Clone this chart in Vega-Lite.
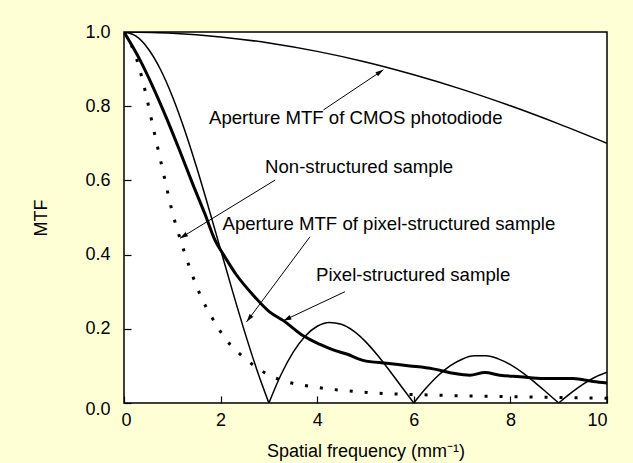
{
  "$schema": "https://vega.github.io/schema/vega-lite/v6.json",
  "width": 483,
  "height": 371,
  "autosize": {"type": "none"},
  "padding": {"left": 124, "top": 32, "right": 26, "bottom": 60},
  "background": "#ffffd6",
  "config": {
    "view": {"fill": "white", "stroke": "black", "strokeWidth": 1.5},
    "font": "Liberation Sans",
    "axis": {
      "grid": false,
      "domain": false,
      "tickColor": "black",
      "tickSize": -7,
      "tickWidth": 1.2,
      "labelFont": "Liberation Sans",
      "labelFontSize": 18,
      "labelColor": "black",
      "titleFont": "Liberation Sans",
      "titleFontSize": 18,
      "titleFontWeight": "normal",
      "titleColor": "black"
    }
  },
  "datasets": {
    "curves": [
      {"curve": "cmos", "part": "a", "f": 0, "mtf": 1.0},
      {"curve": "cmos", "part": "a", "f": 1, "mtf": 0.9967},
      {"curve": "cmos", "part": "a", "f": 2, "mtf": 0.9868},
      {"curve": "cmos", "part": "a", "f": 3, "mtf": 0.9704},
      {"curve": "cmos", "part": "a", "f": 4, "mtf": 0.9478},
      {"curve": "cmos", "part": "a", "f": 5, "mtf": 0.9192},
      {"curve": "cmos", "part": "a", "f": 6, "mtf": 0.8847},
      {"curve": "cmos", "part": "a", "f": 7, "mtf": 0.8454},
      {"curve": "cmos", "part": "a", "f": 8, "mtf": 0.8011},
      {"curve": "cmos", "part": "a", "f": 9, "mtf": 0.7524},
      {"curve": "cmos", "part": "a", "f": 10, "mtf": 0.7001},

      {"curve": "aperture", "part": "a", "f": 0, "mtf": 1.0},
      {"curve": "aperture", "part": "a", "f": 0.25, "mtf": 0.9886},
      {"curve": "aperture", "part": "a", "f": 0.5, "mtf": 0.9549},
      {"curve": "aperture", "part": "a", "f": 0.75, "mtf": 0.9003},
      {"curve": "aperture", "part": "a", "f": 1.0, "mtf": 0.827},
      {"curve": "aperture", "part": "a", "f": 1.25, "mtf": 0.7379},
      {"curve": "aperture", "part": "a", "f": 1.5, "mtf": 0.6366},
      {"curve": "aperture", "part": "a", "f": 1.75, "mtf": 0.5271},
      {"curve": "aperture", "part": "a", "f": 2.0, "mtf": 0.4135},
      {"curve": "aperture", "part": "a", "f": 2.25, "mtf": 0.3001},
      {"curve": "aperture", "part": "a", "f": 2.5, "mtf": 0.191},
      {"curve": "aperture", "part": "a", "f": 2.75, "mtf": 0.0899},
      {"curve": "aperture", "part": "a", "f": 3.0, "mtf": 0.0},
      {"curve": "aperture", "part": "b", "f": 3.0, "mtf": 0.0},
      {"curve": "aperture", "part": "b", "f": 3.25, "mtf": 0.0761},
      {"curve": "aperture", "part": "b", "f": 3.5, "mtf": 0.1364},
      {"curve": "aperture", "part": "b", "f": 3.75, "mtf": 0.1801},
      {"curve": "aperture", "part": "b", "f": 4.0, "mtf": 0.2068},
      {"curve": "aperture", "part": "b", "f": 4.25, "mtf": 0.217},
      {"curve": "aperture", "part": "b", "f": 4.5, "mtf": 0.2122},
      {"curve": "aperture", "part": "b", "f": 4.75, "mtf": 0.1942},
      {"curve": "aperture", "part": "b", "f": 5.0, "mtf": 0.1654},
      {"curve": "aperture", "part": "b", "f": 5.25, "mtf": 0.1286},
      {"curve": "aperture", "part": "b", "f": 5.5, "mtf": 0.0868},
      {"curve": "aperture", "part": "b", "f": 5.75, "mtf": 0.043},
      {"curve": "aperture", "part": "b", "f": 6.0, "mtf": 0.0},
      {"curve": "aperture", "part": "c", "f": 6.0, "mtf": 0.0},
      {"curve": "aperture", "part": "c", "f": 6.25, "mtf": 0.0395},
      {"curve": "aperture", "part": "c", "f": 6.5, "mtf": 0.0735},
      {"curve": "aperture", "part": "c", "f": 6.75, "mtf": 0.1},
      {"curve": "aperture", "part": "c", "f": 7.0, "mtf": 0.1181},
      {"curve": "aperture", "part": "c", "f": 7.25, "mtf": 0.1272},
      {"curve": "aperture", "part": "c", "f": 7.5, "mtf": 0.1273},
      {"curve": "aperture", "part": "c", "f": 7.75, "mtf": 0.119},
      {"curve": "aperture", "part": "c", "f": 8.0, "mtf": 0.1034},
      {"curve": "aperture", "part": "c", "f": 8.25, "mtf": 0.0819},
      {"curve": "aperture", "part": "c", "f": 8.5, "mtf": 0.0562},
      {"curve": "aperture", "part": "c", "f": 8.75, "mtf": 0.0283},
      {"curve": "aperture", "part": "c", "f": 9.0, "mtf": 0.0},
      {"curve": "aperture", "part": "d", "f": 9.0, "mtf": 0.0},
      {"curve": "aperture", "part": "d", "f": 9.25, "mtf": 0.0267},
      {"curve": "aperture", "part": "d", "f": 9.5, "mtf": 0.0503},
      {"curve": "aperture", "part": "d", "f": 9.75, "mtf": 0.0693},
      {"curve": "aperture", "part": "d", "f": 10.0, "mtf": 0.0827},

      {"curve": "pixel", "part": "a", "f": 0, "mtf": 1.0},
      {"curve": "pixel", "part": "a", "f": 0.33, "mtf": 0.925},
      {"curve": "pixel", "part": "a", "f": 0.61, "mtf": 0.849},
      {"curve": "pixel", "part": "a", "f": 0.88, "mtf": 0.768},
      {"curve": "pixel", "part": "a", "f": 1.16, "mtf": 0.678},
      {"curve": "pixel", "part": "a", "f": 1.43, "mtf": 0.588},
      {"curve": "pixel", "part": "a", "f": 1.68, "mtf": 0.508},
      {"curve": "pixel", "part": "a", "f": 1.88, "mtf": 0.44},
      {"curve": "pixel", "part": "a", "f": 2.06, "mtf": 0.4},
      {"curve": "pixel", "part": "a", "f": 2.33, "mtf": 0.345},
      {"curve": "pixel", "part": "a", "f": 2.68, "mtf": 0.29},
      {"curve": "pixel", "part": "a", "f": 3.02, "mtf": 0.245},
      {"curve": "pixel", "part": "a", "f": 3.3, "mtf": 0.222},
      {"curve": "pixel", "part": "a", "f": 3.71, "mtf": 0.181},
      {"curve": "pixel", "part": "a", "f": 4.06, "mtf": 0.158},
      {"curve": "pixel", "part": "a", "f": 4.33, "mtf": 0.143},
      {"curve": "pixel", "part": "a", "f": 4.61, "mtf": 0.132},
      {"curve": "pixel", "part": "a", "f": 4.95, "mtf": 0.115},
      {"curve": "pixel", "part": "a", "f": 5.44, "mtf": 0.107},
      {"curve": "pixel", "part": "a", "f": 5.92, "mtf": 0.1},
      {"curve": "pixel", "part": "a", "f": 6.4, "mtf": 0.092},
      {"curve": "pixel", "part": "a", "f": 6.82, "mtf": 0.08},
      {"curve": "pixel", "part": "a", "f": 7.16, "mtf": 0.075},
      {"curve": "pixel", "part": "a", "f": 7.47, "mtf": 0.082},
      {"curve": "pixel", "part": "a", "f": 7.78, "mtf": 0.075},
      {"curve": "pixel", "part": "a", "f": 8.2, "mtf": 0.071},
      {"curve": "pixel", "part": "a", "f": 8.68, "mtf": 0.066},
      {"curve": "pixel", "part": "a", "f": 9.3, "mtf": 0.066},
      {"curve": "pixel", "part": "a", "f": 9.72, "mtf": 0.058},
      {"curve": "pixel", "part": "a", "f": 10.0, "mtf": 0.054},

      {"curve": "non", "part": "a", "f": 0, "mtf": 1.0},
      {"curve": "non", "part": "a", "f": 0.2, "mtf": 0.95},
      {"curve": "non", "part": "a", "f": 0.4, "mtf": 0.862},
      {"curve": "non", "part": "a", "f": 0.6, "mtf": 0.745},
      {"curve": "non", "part": "a", "f": 0.8, "mtf": 0.629},
      {"curve": "non", "part": "a", "f": 1.0, "mtf": 0.515},
      {"curve": "non", "part": "a", "f": 1.2, "mtf": 0.427},
      {"curve": "non", "part": "a", "f": 1.4, "mtf": 0.35},
      {"curve": "non", "part": "a", "f": 1.6, "mtf": 0.285},
      {"curve": "non", "part": "a", "f": 1.8, "mtf": 0.235},
      {"curve": "non", "part": "a", "f": 2.0, "mtf": 0.192},
      {"curve": "non", "part": "a", "f": 2.2, "mtf": 0.157},
      {"curve": "non", "part": "a", "f": 2.5, "mtf": 0.121},
      {"curve": "non", "part": "a", "f": 2.75, "mtf": 0.095},
      {"curve": "non", "part": "a", "f": 3.07, "mtf": 0.071},
      {"curve": "non", "part": "a", "f": 3.37, "mtf": 0.057},
      {"curve": "non", "part": "a", "f": 3.7, "mtf": 0.048},
      {"curve": "non", "part": "a", "f": 4.0, "mtf": 0.042},
      {"curve": "non", "part": "a", "f": 4.3, "mtf": 0.037},
      {"curve": "non", "part": "a", "f": 5.2, "mtf": 0.027},
      {"curve": "non", "part": "a", "f": 6.5, "mtf": 0.021},
      {"curve": "non", "part": "a", "f": 8.0, "mtf": 0.017},
      {"curve": "non", "part": "a", "f": 9.0, "mtf": 0.015},
      {"curve": "non", "part": "a", "f": 10.0, "mtf": 0.013}
    ],
    "labels": [
      {"text": "Aperture MTF of CMOS photodiode", "f": 1.76, "mtf": 0.768},
      {"text": "Non-structured sample", "f": 2.92, "mtf": 0.636},
      {"text": "Aperture MTF of pixel-structured sample", "f": 2.04, "mtf": 0.482},
      {"text": "Pixel-structured sample", "f": 3.975, "mtf": 0.345}
    ],
    "arrows": [
      {"f": 4.13, "mtf": 0.79, "f2": 5.37, "mtf2": 0.898, "angle": 56.3},
      {"f": 3.13, "mtf": 0.601, "f2": 1.16, "mtf2": 0.444, "angle": 238.5},
      {"f": 3.85, "mtf": 0.448, "f2": 2.54, "mtf2": 0.219, "angle": 216.7},
      {"f": 4.575, "mtf": 0.3, "f2": 3.3, "mtf2": 0.222, "angle": 244.8}
    ]
  },
  "layer": [
    {
      "data": {"name": "curves"},
      "transform": [{"filter": "datum.curve === 'cmos' || datum.curve === 'aperture'"}],
      "mark": {"type": "line", "interpolate": "monotone", "color": "black", "strokeWidth": 1.5, "clip": true},
      "encoding": {
        "x": {
          "field": "f", "type": "quantitative",
          "scale": {"domain": [0, 10], "nice": false},
          "axis": {
            "values": [0, 2, 4, 6, 8, 10], "format": "d",
            "title": "Spatial frequency (mm⁻¹)",
            "labelPadding": 15,
            "titlePadding": 13,
            "labelOffset": {"condition": {"test": "datum.value === 0", "value": -3}, "value": 0}
          }
        },
        "y": {
          "field": "mtf", "type": "quantitative",
          "scale": {"domain": [0, 1], "nice": false},
          "axis": {
            "values": [0, 0.2, 0.4, 0.6, 0.8, 1.0], "format": ".1f",
            "title": "MTF",
            "labelPadding": 21,
            "titlePadding": 34,
            "labelOffset": {"condition": {"test": "datum.value === 0", "value": 6}, "value": 0}
          }
        },
        "detail": [{"field": "curve"}, {"field": "part"}]
      }
    },
    {
      "data": {"name": "curves"},
      "transform": [{"filter": "datum.curve === 'pixel'"}],
      "mark": {"type": "line", "interpolate": "monotone", "color": "black", "strokeWidth": 3, "clip": true},
      "encoding": {
        "x": {"field": "f", "type": "quantitative"},
        "y": {"field": "mtf", "type": "quantitative"}
      }
    },
    {
      "data": {"name": "curves"},
      "transform": [{"filter": "datum.curve === 'non'"}],
      "mark": {"type": "line", "interpolate": "monotone", "color": "black", "strokeWidth": 3, "strokeDash": [3, 12], "clip": true},
      "encoding": {
        "x": {"field": "f", "type": "quantitative"},
        "y": {"field": "mtf", "type": "quantitative"}
      }
    },
    {
      "data": {"name": "arrows"},
      "mark": {"type": "rule", "color": "black", "strokeWidth": 1},
      "encoding": {
        "x": {"field": "f", "type": "quantitative"},
        "y": {"field": "mtf", "type": "quantitative"},
        "x2": {"field": "f2"},
        "y2": {"field": "mtf2"}
      }
    },
    {
      "data": {"name": "arrows"},
      "mark": {"type": "point", "shape": "M0,0L-0.6,2L0.6,2Z", "filled": true, "color": "black", "opacity": 1, "size": 64},
      "encoding": {
        "x": {"field": "f2", "type": "quantitative"},
        "y": {"field": "mtf2", "type": "quantitative"},
        "angle": {"field": "angle", "type": "quantitative", "scale": null}
      }
    },
    {
      "data": {"name": "labels"},
      "mark": {"type": "text", "align": "left", "baseline": "middle", "font": "Liberation Sans", "fontSize": 18.6, "color": "black"},
      "encoding": {
        "x": {"field": "f", "type": "quantitative"},
        "y": {"field": "mtf", "type": "quantitative"},
        "text": {"field": "text"}
      }
    }
  ]
}
